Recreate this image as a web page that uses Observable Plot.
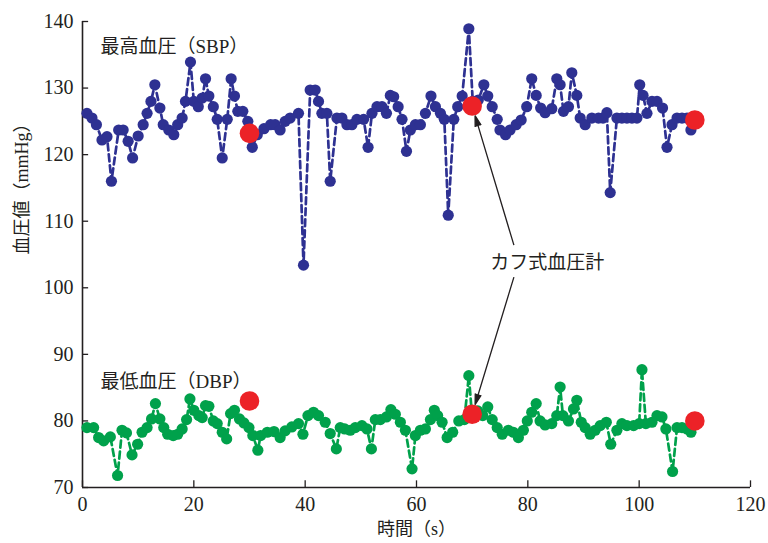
<!DOCTYPE html>
<html><head><meta charset="utf-8">
<script src="https://cdn.jsdelivr.net/npm/d3@7"></script>
<script src="https://cdn.jsdelivr.net/npm/@observablehq/plot@0.6"></script>
<style>
body{margin:0;background:#fff}
#chart svg{font-family:"Liberation Serif","Noto Sans CJK JP",serif}
</style>
</head><body><div id="chart"></div>
<script>
// ---- data ----
const sbpTime = [0.8,1.7,2.5,3.5,4.4,5.2,6.5,7.3,8.2,9.0,10.0,10.9,11.6,12.3,13.0,13.9,14.5,15.5,16.4,17.1,17.9,18.5,19.4,20.0,20.8,21.5,22.1,22.7,23.5,24.2,25.1,26.0,26.7,27.3,27.9,28.8,29.7,30.5,31.4,32.6,33.8,34.6,35.5,36.4,37.3,38.8,39.7,40.9,41.8,42.4,43.0,43.9,44.5,45.7,46.6,47.5,48.4,49.3,50.5,51.3,52.0,52.9,53.8,54.6,55.3,55.9,56.7,57.4,58.2,58.9,59.8,60.7,61.6,62.6,63.4,64.3,65.0,65.7,66.7,67.4,68.2,69.4,70.1,71.1,72.1,72.8,73.6,74.5,75.0,76.0,76.8,77.9,78.8,79.8,80.7,81.5,82.3,83.1,84.3,85.2,85.8,86.4,87.3,87.9,88.8,89.4,90.3,91.5,92.7,93.5,94.2,94.8,96.0,96.9,97.8,98.7,99.6,100.1,100.7,101.4,102.3,103.2,104.2,105.0,105.9,106.8,107.7,108.6,109.3];
const sbpValue = [126.2,125.5,124.5,122.2,122.7,116.0,123.7,123.7,122.0,119.5,122.8,124.5,126.2,128.0,130.5,127.0,124.5,123.7,123.0,124.5,125.5,128.0,133.9,128.0,127.2,128.5,131.4,128.8,127.2,125.3,119.5,125.3,131.4,128.8,126.5,126.5,125.0,121.1,123.0,123.9,124.5,124.5,123.7,125.0,125.5,126.2,103.4,129.7,129.7,128.0,126.2,126.2,116.0,125.5,125.5,124.5,124.5,125.3,125.3,121.1,126.2,127.2,127.2,126.2,128.9,128.7,127.2,125.3,120.5,123.7,124.5,124.5,126.2,128.8,127.2,126.2,125.3,110.9,125.3,127.2,128.8,138.9,128.0,128.2,130.5,128.8,127.2,125.3,123.7,123.0,123.7,124.5,125.2,127.2,131.4,128.9,127.0,126.3,126.9,131.4,130.5,126.5,127.2,132.3,128.9,125.5,124.5,125.5,125.5,125.5,126.3,114.3,125.5,125.5,125.5,125.5,125.5,130.5,128.9,126.2,128.0,128.0,127.0,121.1,124.5,125.5,125.5,125.5,123.7];

const dbpTime = [0.8,2.0,2.9,3.8,5.0,6.3,7.1,7.9,8.9,9.9,10.7,11.6,12.4,13.1,13.9,14.6,15.3,16.3,17.1,17.9,18.7,19.3,20.0,20.9,21.5,22.1,22.7,23.5,24.2,25.1,25.9,26.6,27.3,28.2,29.0,29.9,30.6,31.5,32.0,33.2,34.4,35.5,36.4,37.6,38.8,39.6,40.5,41.5,42.4,43.6,44.5,45.6,46.3,47.1,48.1,49.0,50.2,51.1,51.9,52.6,53.5,54.6,55.4,56.2,57.1,58.0,59.2,59.8,60.7,61.6,62.5,63.2,63.8,64.6,65.5,66.5,67.6,68.6,69.4,70.0,71.0,71.9,72.8,73.6,74.5,75.4,76.5,77.4,78.3,79.2,79.9,80.7,81.5,82.2,83.1,84.3,85.2,85.8,86.3,87.3,88.2,88.8,89.6,90.3,91.2,92.1,93.0,94.1,94.9,96.0,96.9,97.8,99.0,100.0,100.5,101.2,102.3,103.2,104.1,104.8,106.0,106.8,107.7,108.6,109.3];
const dbpValue = [79.0,79.0,77.5,77.0,77.6,71.8,78.6,78.2,74.9,76.5,78.3,79.0,80.3,82.6,80.3,79.0,78.0,77.8,78.0,78.8,80.2,83.3,81.6,80.8,80.5,82.3,82.2,80.0,79.6,78.3,77.3,81.1,81.6,80.3,79.7,79.0,77.8,75.6,77.8,78.3,78.4,77.5,78.5,79.1,79.6,78.0,80.8,81.3,80.8,79.8,78.1,75.8,79.0,78.8,78.6,79.0,79.3,78.8,75.8,80.2,80.2,80.6,81.7,81.0,79.8,78.6,72.8,77.8,78.6,78.8,80.2,81.6,80.8,79.8,77.5,78.3,80.0,80.2,86.8,80.5,81.5,80.8,82.1,80.2,79.0,78.0,78.6,78.3,77.5,78.6,80.0,81.3,82.6,80.0,79.4,79.6,80.8,85.1,80.8,80.0,81.8,83.1,79.8,79.0,78.0,78.6,79.3,79.8,76.5,78.6,79.6,79.3,79.3,79.6,87.7,79.6,79.8,80.8,80.6,78.8,72.4,79.0,79.0,78.8,78.3];

const cuffTime = [30, 70, 110];
const cuffSbp  = [123.2, 127.3, 125.2];
const cuffDbp  = [83.0, 81.0, 80.0];

const xTicks = [0, 20, 40, 60, 80, 100, 120];
const yTicks = [70, 80, 90, 100, 110, 120, 130, 140];

const sbpLabel = "最高血圧（SBP）";
const dbpLabel = "最低血圧（DBP）";
const cuffLabel = "カフ式血圧計";
const xLabel = "時間（s）";
const yLabel = "血圧値（mmHg）";
// callout anchor for the cuff label (data units)
const calloutT = 83.5, calloutV = 103.8;
const calloutIndex = 1; // cuff reading the arrows point to

// ---- build tables ----
const sbp = sbpTime.map((t, i) => ({t, v: sbpValue[i]}));
const dbp = dbpTime.map((t, i) => ({t, v: dbpValue[i]}));
const cuffS = cuffTime.map((t, i) => ({t, v: cuffSbp[i]}));
const cuffD = cuffTime.map((t, i) => ({t, v: cuffDbp[i]}));
const arrows = [
  {x1: calloutT - 6, y1: calloutV + 2.6, x2: cuffTime[calloutIndex], y2: cuffSbp[calloutIndex]},
  {x1: calloutT - 6, y1: calloutV - 2.2, x2: cuffTime[calloutIndex], y2: cuffDbp[calloutIndex]}
];

const BLUE = "#2e3192", GREEN = "#00a14b", RED = "#ec2227", INK = "#231f20";

const chart = Plot.plot({
  width: 768,
  height: 543,
  marginLeft: 82,
  marginRight: 18,
  marginTop: 21,
  marginBottom: 56,
  style: {background: "white", fontSize: "20px", fontFamily: '"Liberation Serif","Noto Sans CJK JP",serif', color: INK},
  x: {domain: [0, 120]},
  y: {domain: [70, 140]},
  marks: [
    Plot.axisX({ticks: xTicks, tickSize: 0, tickPadding: 9, label: null, fontSize: 20}),
    Plot.axisY({ticks: yTicks, tickSize: 0, tickPadding: 9, label: null, fontSize: 20}),
    Plot.ruleX(xTicks, {x: d => d, y1: 70, y2: 71, stroke: INK, strokeWidth: 1.3}),
    Plot.ruleY(yTicks, {y: d => d, x1: 0, x2: 1.1, stroke: INK, strokeWidth: 1.3}),
    Plot.ruleX([0], {stroke: INK, strokeWidth: 1.6}),
    Plot.ruleY([70], {stroke: INK, strokeWidth: 1.6}),
    Plot.line(sbp, {x: "t", y: "v", stroke: BLUE, strokeWidth: 2.7, strokeDasharray: "7,4"}),
    Plot.dot(sbp, {x: "t", y: "v", r: 5.6, fill: BLUE}),
    Plot.line(dbp, {x: "t", y: "v", stroke: GREEN, strokeWidth: 2.7, strokeDasharray: "7,4"}),
    Plot.dot(dbp, {x: "t", y: "v", r: 5.6, fill: GREEN}),
    Plot.dot(cuffS, {x: "t", y: "v", r: 9.8, fill: RED}),
    Plot.dot(cuffD, {x: "t", y: "v", r: 9.8, fill: RED}),
    Plot.arrow(arrows, {x1: "x1", y1: "y1", x2: "x2", y2: "y2", insetEnd: 10, headLength: 13, headAngle: 32, stroke: INK, fill: INK, strokeWidth: 1.3, strokeLinecap: "butt", strokeLinejoin: "miter"}),
    Plot.text([cuffLabel], {x: calloutT, y: calloutV, fontSize: 19, fill: INK}),
    Plot.text([sbpLabel], {frameAnchor: "top-left", dx: 18, dy: 18, textAnchor: "start", fontSize: 19, fill: INK}),
    Plot.text([dbpLabel], {frameAnchor: "top-left", dx: 18, dy: 353, textAnchor: "start", fontSize: 19, fill: INK}),
    Plot.text([xLabel], {frameAnchor: "bottom", dy: 47, fontSize: 18, fill: INK}),
    Plot.text([yLabel], {frameAnchor: "left", dx: -60, rotate: -90, fontSize: 18, fill: INK})
  ]
});
document.getElementById("chart").appendChild(chart);
</script>
</body></html>
